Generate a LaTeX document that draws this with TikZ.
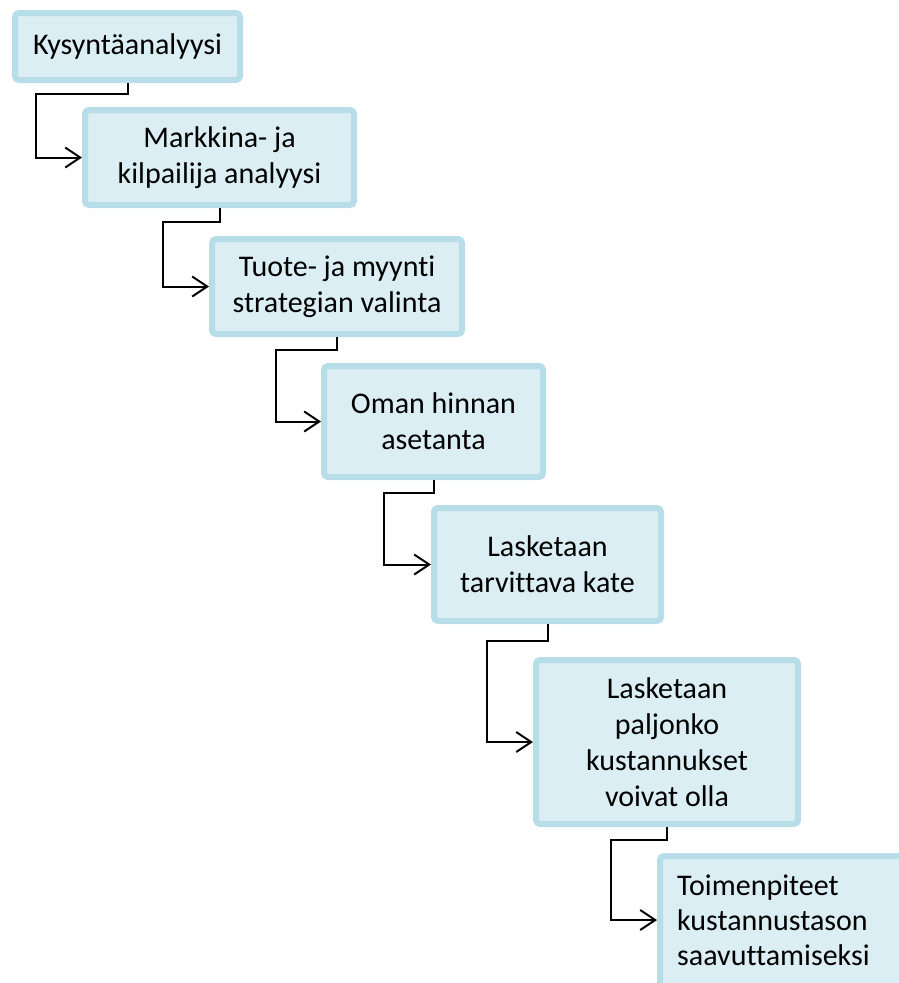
\documentclass[tikz,border=0pt]{standalone}
\usepackage{fontspec}
\setmainfont{Carlito}[Ligatures=NoCommon]
\usetikzlibrary{arrows.meta}
\definecolor{boxfill}{RGB}{218,238,243}
\definecolor{boxline}{RGB}{183,221,232}
\begin{document}
\begin{tikzpicture}[x=1pt,y=-1pt,
  stagebox/.style={draw=boxline, fill=boxfill, line width=6pt, rounded corners=4pt,
    align=center, inner sep=0pt, font=\fontsize{30}{36}\selectfont},
  stagetext/.style={align=left, inner sep=0pt, font=\fontsize{30}{35}\selectfont},
  flow/.style={draw=black, line width=2pt,
    -{Straight Barb[length=15pt,width=20pt,line width=2pt]}}]
\useasboundingbox (0,0) rectangle (898,983);

% process stages
\node[stagebox, minimum width=225pt, minimum height=67pt] (b1) at (127.5,46.5) {Kysyntäanalyysi};
\node[stagebox, minimum width=269pt, minimum height=95pt] (b2) at (219.5,157.5) {Markkina- ja\\kilpailija analyysi};
\node[stagebox, minimum width=250pt, minimum height=95pt] (b3) at (337,286.5) {Tuote- ja myynti\\strategian valinta};
\node[stagebox, minimum width=219pt, minimum height=111pt] (b4) at (433.5,421.5) {Oman hinnan\\asetanta};
\node[stagebox, minimum width=227pt, minimum height=113pt] (b5) at (547.5,564.5) {Lasketaan\\tarvittava kate};
\node[stagebox, minimum width=262pt, minimum height=164pt] (b6) at (667,742) {Lasketaan\\paljonko\\kustannukset\\voivat olla};

% last stage runs past the lower right corner
\node[stagebox, anchor=north west, minimum width=280pt, minimum height=160pt] (b7) at (657,853) {};
\node[stagetext, anchor=north west] (t7) at ([xshift=20pt,yshift=-22pt]b7.north west)
  {Toimenpiteet\\kustannustason\\saavuttamiseksi};

% bend points of the connectors
\coordinate (k1) at (36,94);
\coordinate (k2) at (163,222);
\coordinate (k3) at (276,350);
\coordinate (k4) at (384,493);
\coordinate (k5) at (487,641);
\coordinate (k6) at (611,840);

% connectors
\draw[flow] (b1.south) |- (k1) |- (b2.west);
\draw[flow] (b2.south) |- (k2) |- (b3.west);
\draw[flow] (b3.south) |- (k3) |- (b4.west);
\draw[flow] (b4.south) |- (k4) |- (b5.west);
\draw[flow] (b5.south) |- (k5) |- (b6.west);
\draw[flow] (b6.south) |- (k6) |- ([yshift=-67pt]b7.north west);
\end{tikzpicture}
\end{document}
